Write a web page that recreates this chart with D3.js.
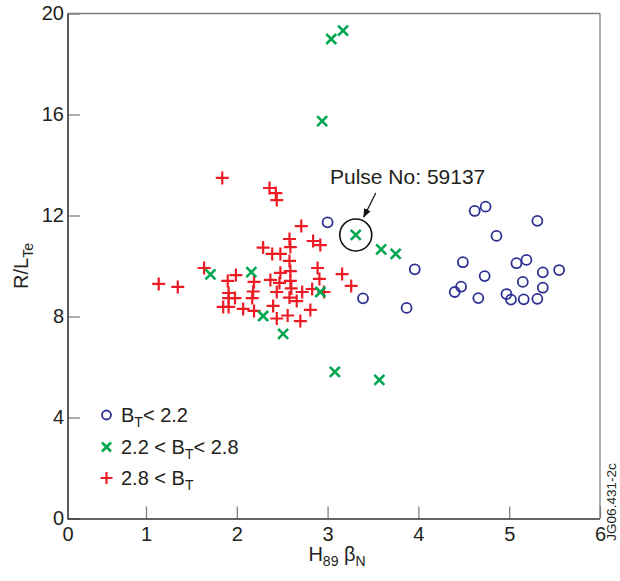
<!DOCTYPE html>
<html>
<head>
<meta charset="utf-8">
<script src="https://cdn.jsdelivr.net/npm/d3@7"></script>
<style>
  html, body { margin: 0; padding: 0; background: #fff; }
  svg { display: block; font-family: "Liberation Sans", Arial, Helvetica, sans-serif; }
</style>
</head>
<body>
<svg id="chart" width="620" height="581"></svg>
<script>
// H89*betaN and R/L_Te for each shot, grouped by toroidal field B_T
const lowFieldX  = [3.00, 3.39, 3.96, 3.87, 4.62, 4.74, 5.31, 4.86, 4.49, 4.73, 5.08, 5.19, 5.37, 5.55, 5.15, 5.37, 4.47, 4.40, 4.66, 4.97, 5.02, 5.16, 5.31];
const lowFieldY  = [11.73, 8.72, 9.87, 8.34, 12.18, 12.35, 11.79, 11.19, 10.15, 9.60, 10.11, 10.24, 9.75, 9.84, 9.37, 9.14, 9.18, 8.97, 8.73, 8.89, 8.67, 8.68, 8.70];

const midFieldX  = [3.04, 3.17, 2.94, 3.31, 3.59, 3.75, 2.92, 1.71, 2.16, 2.29, 2.51, 3.08, 3.57];
const midFieldY  = [18.99, 19.32, 15.74, 11.23, 10.66, 10.48, 8.97, 9.67, 9.76, 8.02, 7.31, 5.81, 5.49];

const highFieldX = [1.84, 2.36, 2.43, 2.44, 2.71, 2.58, 2.84, 2.92, 2.29, 2.59, 2.39, 2.48, 2.58, 2.89, 2.48, 2.59,
                    2.91, 3.16, 3.26, 2.19, 2.37, 2.47, 2.59, 2.60, 2.18, 2.44, 2.72, 2.83, 2.96, 2.17, 2.58,
                    2.66, 2.40, 2.07, 2.19, 2.56, 2.81, 2.44, 2.70, 1.14, 1.35, 1.64, 1.99, 1.90, 1.91, 1.91,
                    1.98, 1.85, 1.91];
const highFieldY = [13.49, 13.09, 12.89, 12.61, 11.58, 11.07, 10.99, 10.83, 10.73, 10.75, 10.48, 10.48, 10.20, 9.92, 9.73, 9.80,
                    9.49, 9.68, 9.21, 9.37, 9.45, 9.33, 9.41, 9.11, 8.99, 8.97, 8.97, 9.09, 8.97, 8.73, 8.75,
                    8.61, 8.42, 8.30, 8.22, 8.04, 8.26, 7.92, 7.82, 9.29, 9.17, 9.92, 9.64, 9.41, 8.93, 8.73,
                    8.73, 8.38, 8.38];

const xTicks = [1, 2, 3, 4, 5, 6];
const yTicks = [0, 4, 8, 12, 16, 20];
const legendLabels = [
  [["B", ""], ["T", "sub"], ["< 2.2", ""]],
  [["2.2 < B", ""], ["T", "sub"], ["< 2.8", ""]],
  [["2.8 < B", ""], ["T", "sub"]]
];
const highlightShot = { x: 3.31, y: 11.23, label: "Pulse No: 59137" };

const BLUE = "#2e3192", GREEN = "#00a650", RED = "#ed1c24", INK = "#231f20";
const FONT = "20px";

const svg = d3.select("#chart");
const x = d3.scaleLinear().domain([0, 6]).range([55.2, 600]);
const y = d3.scaleLinear().domain([0, 20]).range([518.5, 13.5]);
const frameL = 68, frameR = x(6), frameT = y(20), frameB = y(0);

// frame
svg.append("line").attr("x1", frameL).attr("x2", frameR).attr("y1", frameT).attr("y2", frameT)
  .attr("stroke", "#808080").attr("stroke-width", 1.3);
svg.append("line").attr("x1", frameR).attr("x2", frameR).attr("y1", frameT).attr("y2", frameB)
  .attr("stroke", "#808080").attr("stroke-width", 1.3);

// axes with inward ticks
const gx = svg.append("g").attr("transform", `translate(0,${frameB})`)
  .call(d3.axisBottom(x).tickValues(xTicks).tickSizeInner(-12).tickSizeOuter(0).tickPadding(8).tickFormat(d3.format("d")));
const gy = svg.append("g").attr("transform", `translate(${frameL},0)`)
  .call(d3.axisLeft(y).tickValues(yTicks).tickSizeInner(-12).tickSizeOuter(0).tickPadding(4).tickFormat(d3.format("d")));
[gx, gy].forEach(g => {
  g.select(".domain").remove();
  g.selectAll(".tick line").attr("stroke", "#808080").attr("stroke-width", 1.3);
  g.selectAll(".tick text").attr("fill", INK).style("font-size", FONT).style("font-family", "inherit");
});
svg.append("text").attr("x", frameL).attr("y", frameB + 8).attr("dy", "0.71em")
  .attr("text-anchor", "middle").attr("fill", INK).style("font-size", FONT).text("0");

svg.append("line").attr("x1", frameL).attr("x2", frameL).attr("y1", frameT).attr("y2", frameB + 1)
  .attr("stroke", "#333").attr("stroke-width", 1.6);
svg.append("line").attr("x1", frameL).attr("x2", frameR).attr("y1", frameB + 0.5).attr("y2", frameB + 0.5)
  .attr("stroke", "#333").attr("stroke-width", 1.6);

// axis titles
const xt = svg.append("text").attr("x", 337).attr("y", 561).attr("text-anchor", "middle")
  .attr("fill", INK).style("font-size", FONT);
xt.append("tspan").text("H");
xt.append("tspan").attr("dy", 5).style("font-size", "14px").text("89");
xt.append("tspan").attr("dy", -5).text(" \u03b2");
xt.append("tspan").attr("dy", 5).style("font-size", "14px").text("N");

const yt = svg.append("text").attr("transform", "translate(28,266) rotate(-90)").attr("text-anchor", "middle")
  .attr("fill", INK).style("font-size", FONT);
yt.append("tspan").text("R/L");
yt.append("tspan").attr("dy", 5).style("font-size", "14px").text("Te");

// markers
const circleSym = (g, cx, cy, r) => g.append("circle").attr("cx", cx).attr("cy", cy).attr("r", r)
  .attr("fill", "none").attr("stroke", BLUE).attr("stroke-width", 1.8);
const crossSym = (g, cx, cy, h) => g.append("path")
  .attr("d", `M${cx - h},${cy - h}L${cx + h},${cy + h}M${cx - h},${cy + h}L${cx + h},${cy - h}`)
  .attr("stroke", GREEN).attr("stroke-width", 2.6).attr("fill", "none");
const plusSym = (g, cx, cy, h) => g.append("path")
  .attr("d", `M${cx - h},${cy}L${cx + h},${cy}M${cx},${cy - h}L${cx},${cy + h}`)
  .attr("stroke", RED).attr("stroke-width", 2.2).attr("fill", "none");

const gHigh = svg.append("g");
highFieldX.forEach((v, i) => plusSym(gHigh, x(v), y(highFieldY[i]), 6.5));
const gLow = svg.append("g");
lowFieldX.forEach((v, i) => circleSym(gLow, x(v), y(lowFieldY[i]), 5));
const gMid = svg.append("g");
midFieldX.forEach((v, i) => crossSym(gMid, x(v), y(midFieldY[i]), 5));

// highlighted discharge
const hx = x(highlightShot.x), hy = y(highlightShot.y);
svg.append("circle").attr("cx", hx).attr("cy", hy).attr("r", 16)
  .attr("fill", "none").attr("stroke", "#111").attr("stroke-width", 1.6);
svg.append("defs").append("marker").attr("id", "arrowhead").attr("viewBox", "0 0 10 10")
  .attr("refX", 9).attr("refY", 5).attr("markerWidth", 9).attr("markerHeight", 9)
  .attr("markerUnits", "userSpaceOnUse").attr("orient", "auto")
  .append("path").attr("d", "M0,1L10,5L0,9Z").attr("fill", "#111");
svg.append("line").attr("x1", hx + 20).attr("y1", hy - 42).attr("x2", hx + 8).attr("y2", hy - 18)
  .attr("stroke", "#111").attr("stroke-width", 1.2).attr("marker-end", "url(#arrowhead)");
svg.append("text").attr("x", 330).attr("y", 184).attr("fill", INK).style("font-size", "21px")
  .text(highlightShot.label);

// legend
const legend = svg.append("g");
const legRows = [415, 447, 478];
circleSym(legend, 106.5, legRows[0], 4.5);
crossSym(legend, 106.5, legRows[1], 4.5);
plusSym(legend, 106.5, legRows[2], 6);
legendLabels.forEach((parts, i) => {
  const t = legend.append("text").attr("x", 121).attr("y", legRows[i] + 7)
    .attr("fill", INK).style("font-size", FONT);
  parts.forEach(([s, kind], j) => {
    const ts = t.append("tspan").text(s);
    if (kind === "sub") ts.attr("dy", 5).style("font-size", "14px");
    else if (j > 0) ts.attr("dy", -5);
  });
});

// figure reference tag
svg.append("text").attr("transform", "translate(616,502) rotate(-90)").attr("text-anchor", "middle")
  .attr("fill", INK).style("font-size", "13.5px").text("JG06.431-2c");
</script>
</body>
</html>
